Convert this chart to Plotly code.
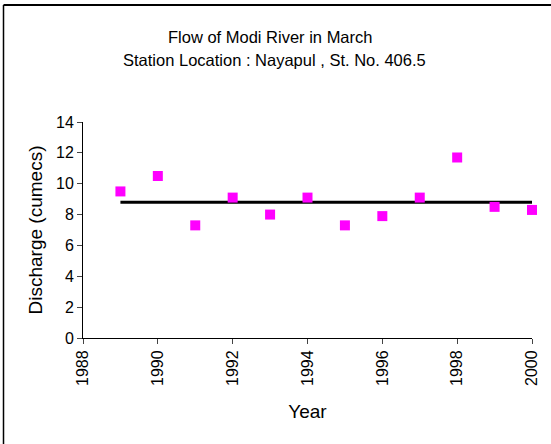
import plotly.graph_objects as go

years = [1989, 1990, 1991, 1992, 1993, 1994, 1995, 1996, 1997, 1998, 1999, 2000]
discharge = [9.5, 10.5, 7.3, 9.1, 8.0, 9.1, 7.3, 7.9, 9.1, 11.7, 8.5, 8.3]
mean_years = [1989, 2000]
mean_value = [8.8, 8.8]

title1 = "Flow of Modi River in March"
title2 = "Station Location : Nayapul , St. No. 406.5"

W, H = 551, 444
L, R, T, B = 83, 19, 122, 106
pw, ph = W - L - R, H - T - B

def px(x):
    return (x - L) / pw

def py(y):
    return (H - B - y) / ph

fig = go.Figure()
fig.add_trace(go.Scatter(x=mean_years, y=mean_value, mode="lines",
                         line=dict(color="black", width=3), showlegend=False))
fig.add_trace(go.Scatter(x=years, y=discharge, mode="markers",
                         marker=dict(symbol="square", size=10, color="#FF00FF"),
                         cliponaxis=False, showlegend=False))

font = "Liberation Sans, Arial, sans-serif"
fig.update_layout(
    width=W, height=H,
    margin=dict(l=L, r=R, t=T, b=B),
    paper_bgcolor="white", plot_bgcolor="white",
    font=dict(family=font, size=16, color="black"),
    xaxis=dict(range=[1988, 2000], dtick=2, tick0=1988, ticks="outside", ticklen=5,
               tickangle=-90, showline=True, linecolor="black", linewidth=1,
               showgrid=False, zeroline=False,
               title=dict(text="Year", standoff=19),
               tickfont=dict(size=16)),
    yaxis=dict(range=[0, 14], dtick=2, ticks="outside", ticklen=5,
               showline=True, linecolor="black", linewidth=1,
               showgrid=False, zeroline=False,
               title=dict(text="Discharge (cumecs)", standoff=8),
               tickfont=dict(size=16)),
    annotations=[
        dict(text=title1, x=px(270), y=py(37), xref="paper", yref="paper",
             showarrow=False, xanchor="center", yanchor="middle", font=dict(size=16.5)),
        dict(text=title2, x=px(274), y=py(60), xref="paper", yref="paper",
             showarrow=False, xanchor="center", yanchor="middle", font=dict(size=16.5)),
    ],
    shapes=[
        dict(type="line", xref="paper", yref="paper", x0=px(3.5), x1=px(551),
             y0=py(5), y1=py(5), line=dict(color="black", width=2)),
        dict(type="line", xref="paper", yref="paper", x0=px(3.5), x1=px(3.5),
             y0=py(5), y1=py(444), line=dict(color="black", width=1.5)),
    ],
)

fig.write_html("out.html", config={"displayModeBar": False},
               post_script="document.body.style.margin='0';")
